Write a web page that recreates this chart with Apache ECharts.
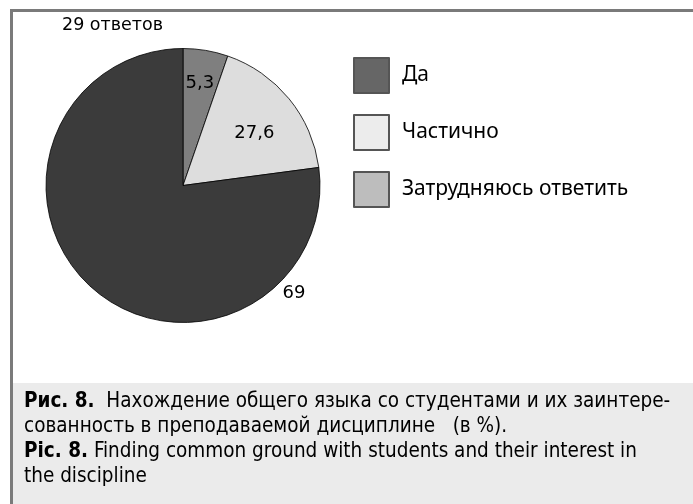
<!DOCTYPE html>
<html lang="ru">
<head>
<meta charset="utf-8">
<title>Рис. 8</title>
<script src="https://cdn.jsdelivr.net/npm/echarts@6/dist/echarts.min.js"></script>
<style>
  html, body { margin: 0; padding: 0; background: #fff; }
  #main { width: 693px; height: 504px; }
</style>
</head>
<body>
<div id="main"></div>
<script>
// данные
var names = ['Да', 'Частично', 'Затрудняюсь ответить'];
var values = [5.3, 17.6, 77.1];           // размеры секторов на рисунке
var labels = ['5,3', '27,6', '69'];       // подписи, как напечатаны
var sliceColors = ['#7f7f7f', '#dddddd', '#3b3b3b'];
var legendColors = ['#666666', '#ececec', '#bdbdbd'];
var labelOffsets = [[5, -32], [16, -7], [158, 54]];

var captionLines = [
  '{b|Рис. 8.}  Нахождение общего языка со студентами и их заинтере-',
  'сованность в преподаваемой дисциплине   (в %).',
  '{b|Pic. 8.} Finding common ground with students and their interest in',
  'the discipline'
];

var captionFont = '"Liberation Sans Narrow", "DejaVu Sans Condensed", "Noto Sans", sans-serif';

var myChart = echarts.init(document.getElementById('main'));

var pieData = names.map(function (n, i) {
  return {
    name: n,
    value: values[i],
    itemStyle: { color: sliceColors[i] },
    label: { formatter: labels[i], offset: labelOffsets[i] }
  };
});

myChart.setOption({
  animation: false,
  title: {
    text: '29 ответов',
    left: 62, top: 16, padding: 0,
    textStyle: { fontSize: 17.5, fontWeight: 'normal', color: '#000', fontFamily: 'DejaVu Sans' }
  },
  legend: {
    orient: 'vertical',
    left: 353, top: 57, padding: 0,
    itemWidth: 35, itemHeight: 35, itemGap: 20,
    icon: 'rect',
    selectedMode: false,
    textStyle: { fontSize: 21, color: '#000', fontFamily: 'Noto Sans', padding: [0, 0, 0, 8] },
    data: names.map(function (n, i) {
      return { name: n, itemStyle: { color: legendColors[i], borderColor: '#555', borderWidth: 2 } };
    })
  },
  graphic: [
    // рамка
    { type: 'line', shape: { x1: 11, y1: 10.5, x2: 693, y2: 10.5 }, style: { stroke: '#7a7a7a', lineWidth: 3 } },
    { type: 'line', shape: { x1: 11.5, y1: 9, x2: 11.5, y2: 504 }, style: { stroke: '#7a7a7a', lineWidth: 3 } },
    // подпись
    { type: 'rect', shape: { x: 13, y: 383, width: 680, height: 121 }, style: { fill: '#ebebeb' } },
    {
      type: 'text', left: 24, top: 389,
      style: {
        text: captionLines.join('\n'),
        font: '20.5px ' + captionFont,
        fill: '#000',
        lineHeight: 25,
        rich: {
          b: { fontWeight: 'bold', fontSize: 20.5, fontFamily: captionFont, lineHeight: 25 }
        }
      }
    }
  ],
  series: [{
    type: 'pie',
    center: [183, 185.5],
    radius: [0, 137],
    startAngle: 90,
    clockwise: true,
    avoidLabelOverlap: false,
    itemStyle: { borderColor: '#000', borderWidth: 0.8 },
    label: {
      show: true, position: 'inside',
      fontSize: 18, color: '#000', fontFamily: 'DejaVu Sans'
    },
    labelLine: { show: false },
    emphasis: { disabled: true },
    data: pieData
  }]
});
</script>
</body>
</html>
